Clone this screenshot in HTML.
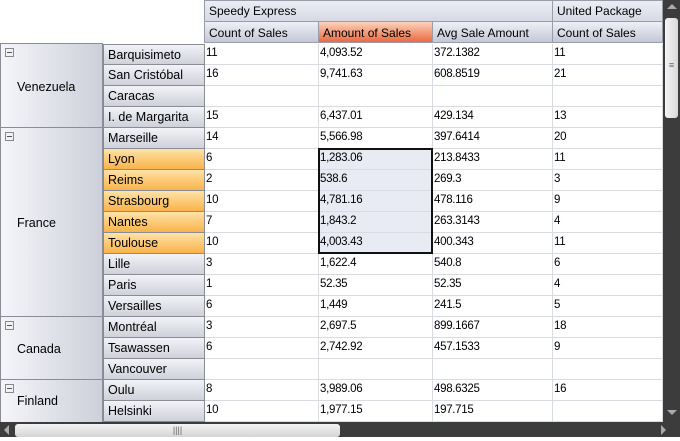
<!DOCTYPE html><html><head><style>
*{box-sizing:border-box;margin:0;padding:0}
body{width:680px;height:441px;background:#fff;font-family:"Liberation Sans",sans-serif;font-size:12px;color:#000;position:relative;overflow:hidden}
.a{position:absolute}
.h1{background:linear-gradient(#eceef5,#d6d9e4);border:1px solid #9a9caa;border-left:none;padding:3px 0 0 4px;height:22px}
.h2{background:linear-gradient(#eef0f6,#c4c7d6);border:1px solid #9a9caa;border-top:none;border-left:none;padding:4px 0 0 4px;height:21px}
.row{position:absolute;left:205px;height:21px;display:flex}
.row div{height:21px;border-right:1px solid #d6dbe4;border-bottom:1px solid #d6dbe4;padding:3px 0 0 1px;font-size:11.5px;letter-spacing:-0.3px}
.c1{width:114px}.c2{width:114px}.c3{width:120px}.c4{width:110px}
.city{position:absolute;left:103px;width:102px;height:21px;background:linear-gradient(#f2f3f7,#cfd1da);border-right:1px solid #8a8c98;border-bottom:1px solid #8a8c98;border-left:1px solid #8a8c98;padding:3px 0 0 4px;font-size:12.5px}
.o{background:linear-gradient(#ffe3a8,#f9b24a)}
.cty{position:absolute;left:0;width:103px;background:linear-gradient(90deg,#f4f5f9,#cdd0da);border:1px solid #8a8c98;border-top:none;font-size:12.5px}
.cty span{position:absolute;left:16px}
.cty i{position:absolute;left:4px;top:4px;width:9px;height:9px;border:1px solid #888;font-style:normal}
.cty i:after{content:"";position:absolute;left:1px;top:3px;width:5px;height:1px;background:#555}
</style></head><body>
<div class="a h1" style="left:204px;top:0;width:349px;border-left:1px solid #9a9caa">Speedy Express</div>
<div class="a h1" style="left:553px;top:0;width:110px">United Package</div>
<div class="a h2" style="left:204px;top:22px;width:115px;border-left:1px solid #9a9caa">Count of Sales</div>
<div class="a h2" style="left:319px;top:22px;width:114px;background:linear-gradient(#fbd2bb,#ea6a40)">Amount of Sales</div>
<div class="a h2" style="left:433px;top:22px;width:120px">Avg Sale Amount</div>
<div class="a h2" style="left:553px;top:22px;width:110px">Count of Sales</div>

<div class="cty" style="top:43px;height:85px;border-top:1px solid #8a8c98"><i></i><span style="top:36px">Venezuela</span></div>
<div class="cty" style="top:128px;height:189px"><i></i><span style="top:88px">France</span></div>
<div class="cty" style="top:317px;height:63px"><i></i><span style="top:25px">Canada</span></div>
<div class="cty" style="top:380px;height:43px"><i></i><span style="top:14px">Finland</span></div>

<div class="city" style="top:44px;border-top:1px solid #8a8c98;height:21px">Barquisimeto</div>
<div class="city" style="top:65px">San Cristóbal</div>
<div class="city" style="top:86px">Caracas</div>
<div class="city" style="top:107px">I. de Margarita</div>
<div class="city" style="top:128px">Marseille</div>
<div class="city o" style="top:149px">Lyon</div>
<div class="city o" style="top:170px">Reims</div>
<div class="city o" style="top:191px">Strasbourg</div>
<div class="city o" style="top:212px">Nantes</div>
<div class="city o" style="top:233px">Toulouse</div>
<div class="city" style="top:254px">Lille</div>
<div class="city" style="top:275px">Paris</div>
<div class="city" style="top:296px">Versailles</div>
<div class="city" style="top:317px">Montréal</div>
<div class="city" style="top:338px">Tsawassen</div>
<div class="city" style="top:359px">Vancouver</div>
<div class="city" style="top:380px">Oulu</div>
<div class="city" style="top:401px">Helsinki</div>

<div class="a" style="left:319px;top:149px;width:114px;height:105px;background:#e8eaf4"></div>
<div class="row" style="top:44px"><div class="c1">11</div><div class="c2">4,093.52</div><div class="c3">372.1382</div><div class="c4">11</div></div>
<div class="row" style="top:65px"><div class="c1">16</div><div class="c2">9,741.63</div><div class="c3">608.8519</div><div class="c4">21</div></div>
<div class="row" style="top:86px"><div class="c1"></div><div class="c2"></div><div class="c3"></div><div class="c4"></div></div>
<div class="row" style="top:107px"><div class="c1">15</div><div class="c2">6,437.01</div><div class="c3">429.134</div><div class="c4">13</div></div>
<div class="row" style="top:128px"><div class="c1">14</div><div class="c2">5,566.98</div><div class="c3">397.6414</div><div class="c4">20</div></div>
<div class="row" style="top:149px"><div class="c1">6</div><div class="c2">1,283.06</div><div class="c3">213.8433</div><div class="c4">11</div></div>
<div class="row" style="top:170px"><div class="c1">2</div><div class="c2">538.6</div><div class="c3">269.3</div><div class="c4">3</div></div>
<div class="row" style="top:191px"><div class="c1">10</div><div class="c2">4,781.16</div><div class="c3">478.116</div><div class="c4">9</div></div>
<div class="row" style="top:212px"><div class="c1">7</div><div class="c2">1,843.2</div><div class="c3">263.3143</div><div class="c4">4</div></div>
<div class="row" style="top:233px"><div class="c1">10</div><div class="c2">4,003.43</div><div class="c3">400.343</div><div class="c4">11</div></div>
<div class="row" style="top:254px"><div class="c1">3</div><div class="c2">1,622.4</div><div class="c3">540.8</div><div class="c4">6</div></div>
<div class="row" style="top:275px"><div class="c1">1</div><div class="c2">52.35</div><div class="c3">52.35</div><div class="c4">4</div></div>
<div class="row" style="top:296px"><div class="c1">6</div><div class="c2">1,449</div><div class="c3">241.5</div><div class="c4">5</div></div>
<div class="row" style="top:317px"><div class="c1">3</div><div class="c2">2,697.5</div><div class="c3">899.1667</div><div class="c4">18</div></div>
<div class="row" style="top:338px"><div class="c1">6</div><div class="c2">2,742.92</div><div class="c3">457.1533</div><div class="c4">9</div></div>
<div class="row" style="top:359px"><div class="c1"></div><div class="c2"></div><div class="c3"></div><div class="c4"></div></div>
<div class="row" style="top:380px"><div class="c1">8</div><div class="c2">3,989.06</div><div class="c3">498.6325</div><div class="c4">16</div></div>
<div class="row" style="top:401px"><div class="c1">10</div><div class="c2">1,977.15</div><div class="c3">197.715</div><div class="c4"></div></div>
<div class="a" style="left:318px;top:148px;width:115px;height:106px;border:2px solid #111"></div>

<div class="a" style="left:663px;top:0;width:17px;height:437px;background:#3c3c3c"></div>
<div class="a" style="left:665px;top:18px;width:13px;height:100px;background:linear-gradient(90deg,#f4f4f4,#d8d8d8);border-radius:3px;font-size:9px;color:#666;text-align:center;padding-top:42px">≡</div>
<div class="a" style="left:667px;top:4px;width:0;height:0;border:5px solid transparent;border-bottom-color:#aaa;border-top:none"></div>
<div class="a" style="left:667px;top:410px;width:0;height:0;border:5px solid transparent;border-top-color:#aaa;border-bottom:none"></div>
<div class="a" style="left:0;top:422px;width:680px;height:19px;background:#3c3c3c"></div>
<div class="a" style="left:15px;top:424px;width:325px;height:13px;background:linear-gradient(#f4f4f4,#d4d4d4);border-radius:3px;font-size:9px;color:#666;text-align:center;line-height:13px">||||</div>
<div class="a" style="left:4px;top:425px;width:0;height:0;border:5px solid transparent;border-right-color:#aaa;border-left:none"></div>
<div class="a" style="left:661px;top:425px;width:0;height:0;border:5px solid transparent;border-left-color:#aaa;border-right:none"></div>
<div class="a" style="left:0;top:437px;width:680px;height:4px;background:#fff"></div>
</body></html>
